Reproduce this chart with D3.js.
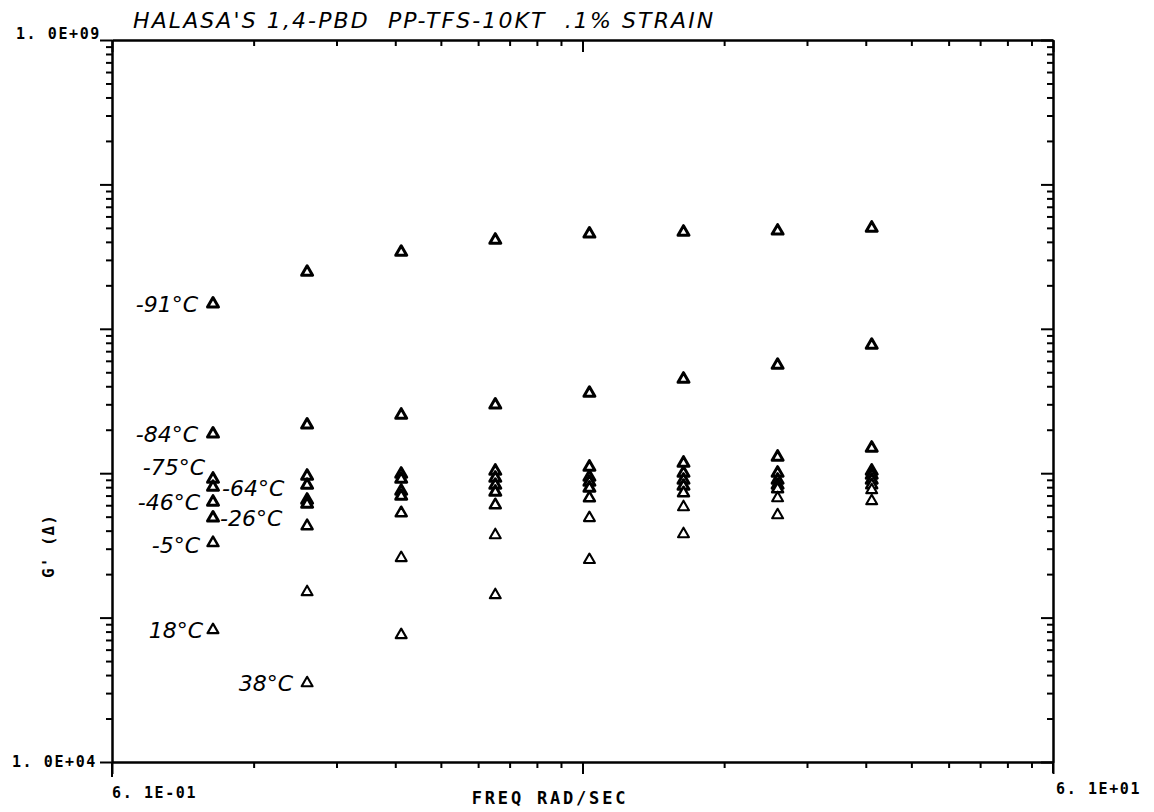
<!DOCTYPE html>
<html><head><meta charset="utf-8">
<script src="https://cdn.jsdelivr.net/npm/d3@7"></script>
<style>
body{margin:0;background:#fff}
svg{display:block;background:#fff}
</style></head><body>
<svg id="c" width="1154" height="812"></svg>
<script>
// ---- data ----
const freqs = [1.0, 1.585, 2.512, 3.981, 6.31, 10.0, 15.85, 25.12];
const temps = ["-91°C", "-84°C", "-75°C", "-64°C", "-46°C", "-26°C", "-5°C", "18°C", "38°C"];
const gM91 = [1.49e7, 2.47e7, 3.40e7, 4.12e7, 4.54e7, 4.68e7, 4.76e7, 4.99e7];
const gM84 = [1.87e6, 2.16e6, 2.53e6, 2.97e6, 3.59e6, 4.49e6, 5.61e6, 7.72e6];
const gM75 = [9.12e5, 9.56e5, 9.87e5, 1.036e6, 1.104e6, 1.177e6, 1.295e6, 1.494e6];
const gM64 = [8.02e5, 8.28e5, 9.12e5, 9.26e5, 9.41e5, 1.003e6, 1.003e6, 1.036e6];
const gM46 = [6.32e5, 6.52e5, 7.53e5, 8.28e5, 8.69e5, 8.97e5, 8.97e5, 9.72e5];
const gM26 = [4.90e5, 6.12e5, 6.95e5, 7.41e5, 7.90e5, 8.15e5, 8.28e5, 8.97e5];
const gM5  = [3.29e5, 4.31e5, 5.30e5, 6.02e5, 6.73e5, 7.29e5, 7.77e5, 8.28e5];
const gP18 = [8.21e4, 1.504e5, 2.59e5, 3.73e5, 4.90e5, 5.83e5, 6.73e5, 7.65e5];
const gP38 = [null, 3.52e4, 7.58e4, 1.434e5, 2.51e5, 3.79e5, 5.13e5, 6.42e5];
const seriesValues = [gM91, gM84, gM75, gM64, gM46, gM26, gM5, gP18, gP38];
const xDomain = [0.61, 61];
const yDomain = [1e4, 1e9];
const xTickLabels = ["6. 1E-01", "6. 1E+01"];
const yTickLabels = ["1. 0E+04", "1. 0E+09"];
const title = "HALASA'S 1,4-PBD  PP-TFS-10KT  .1% STRAIN";
const xTitle = "FREQ RAD/SEC";
const yTitle = "G' (Δ)";

// ---- layout / style ----
const L = 112, R = 1053, T = 40, B = 762;
const svg = d3.select("#c");
const x = d3.scaleLog().domain(xDomain).range([L, R]);
const y = d3.scaleLog().domain(yDomain).range([B, T]);

function minorTicks(lo, hi){
  const out = [];
  for (let b = lo; b < hi * 0.999; b *= 10) for (let k = 2; k <= 9; k++) out.push(b * k);
  return out;
}
function majorTicks(lo, hi){
  const out = [];
  for (let b = lo; b <= hi * 1.001; b *= 10) out.push(b);
  return out;
}
const xMin = minorTicks(xDomain[0], xDomain[1]), xMaj = majorTicks(xDomain[0], xDomain[1]);
const yMin = minorTicks(yDomain[0], yDomain[1]), yMaj = majorTicks(yDomain[0], yDomain[1]);

function styleAxis(g){
  g.selectAll("path.domain").attr("stroke", "#000").attr("stroke-width", 2);
  g.selectAll(".tick line").attr("stroke", "#000").attr("stroke-width", 2);
  g.selectAll(".tick text").remove();
}
function addAxis(gen, tr, vals, size){
  const g = svg.append("g").attr("transform", tr)
    .call(gen.tickValues(vals).tickSize(size).tickSizeOuter(0).tickFormat(""));
  styleAxis(g);
  return g;
}
// bottom (outward), left (outward), top (inward), right (inward)
addAxis(d3.axisBottom(x), `translate(0,${B})`, xMin, 6);
addAxis(d3.axisBottom(x), `translate(0,${B})`, xMaj, 12);
addAxis(d3.axisLeft(y), `translate(${L},0)`, yMin, 6);
addAxis(d3.axisLeft(y), `translate(${L},0)`, yMaj, 12);
addAxis(d3.axisTop(x), `translate(0,${T})`, xMin, -6);
addAxis(d3.axisTop(x), `translate(0,${T})`, xMaj, -12);
addAxis(d3.axisRight(y), `translate(${R},0)`, yMin, -6);
addAxis(d3.axisRight(y), `translate(${R},0)`, yMaj, -12);
// corner extensions of plotter frame
svg.append("line").attr("x1", x(xDomain[0])).attr("x2", x(xDomain[0])).attr("y1", B).attr("y2", B + 15).attr("stroke", "#000").attr("stroke-width", 2);
svg.append("line").attr("x1", x(xDomain[1])).attr("x2", x(xDomain[1])).attr("y1", B).attr("y2", B + 11).attr("stroke", "#000").attr("stroke-width", 2);

const monoFont = "'DejaVu Sans Mono', monospace";
const handFont = "'DejaVu Sans', sans-serif";

function endLabel(xp, yp, anchor, txt){
  svg.append("text").attr("x", xp).attr("y", yp).attr("text-anchor", anchor)
    .attr("font-family", monoFont).attr("font-weight", "bold").attr("font-size", 15).attr("letter-spacing", 1.6)
    .text(txt);
}
endLabel(L - 11, y(yDomain[1]) - 1, "end", yTickLabels[1]);
endLabel(L - 15, y(yDomain[0]) + 5, "end", yTickLabels[0]);
endLabel(x(xDomain[0]), B + 36, "start", xTickLabels[0]);
endLabel(x(xDomain[1]) + 3, B + 32, "start", xTickLabels[1]);

// axis titles
svg.append("text").attr("x", 550).attr("y", 804).attr("text-anchor", "middle")
  .attr("font-family", monoFont).attr("font-weight", "bold").attr("font-size", 17).attr("letter-spacing", 2.8)
  .text(xTitle);
svg.append("text").attr("transform", "translate(54,578) rotate(-90)").attr("text-anchor", "start")
  .attr("font-family", monoFont).attr("font-weight", "bold").attr("font-size", 16).attr("letter-spacing", 1)
  .text(yTitle);

// title
svg.append("text").attr("x", 133).attr("y", 28).attr("text-anchor", "start")
  .attr("font-family", handFont).attr("font-style", "italic").attr("font-size", 22).attr("letter-spacing", 2.1)
  .style("white-space", "pre").attr("xml:space", "preserve")
  .text(title);

// points
const tri = d3.symbol().type(d3.symbolTriangle).size(52);
const strokeW = [3.0, 3.0, 3.0, 3.0, 3.0, 3.0, 2.5, 2.1, 2.1];
seriesValues.forEach((vals, si) => {
  const pts = vals.map((v, i) => ({f: freqs[i], v})).filter(d => d.v != null);
  svg.append("g").selectAll("path").data(pts).join("path")
    .attr("d", tri)
    .attr("transform", d => `translate(${x(d.f)},${y(d.v)})`)
    .attr("fill", "#fff").attr("stroke", "#000").attr("stroke-width", strokeW[si])
    .attr("stroke-linejoin", "round");
});

// temperature labels (placed relative to each series' first point)
const labelOffset = [
  [-15, 0, "end"], [-15, 0, "end"], [-8, -12, "end"], [9, 1, "start"], [-13, 0, "end"],
  [7, 0, "start"], [-13, 2, "end"], [-10, 0, "end"], [-14, 0, "end"]
];
temps.forEach((t, si) => {
  const vals = seriesValues[si];
  const i0 = vals.findIndex(v => v != null);
  const [dx, dy, anchor] = labelOffset[si];
  svg.append("text")
    .attr("x", x(freqs[i0]) + dx).attr("y", y(vals[i0]) + dy + 8)
    .attr("text-anchor", anchor)
    .attr("font-family", handFont).attr("font-style", "italic").attr("font-size", 22)
    .text(t);
});
</script>
</body></html>
